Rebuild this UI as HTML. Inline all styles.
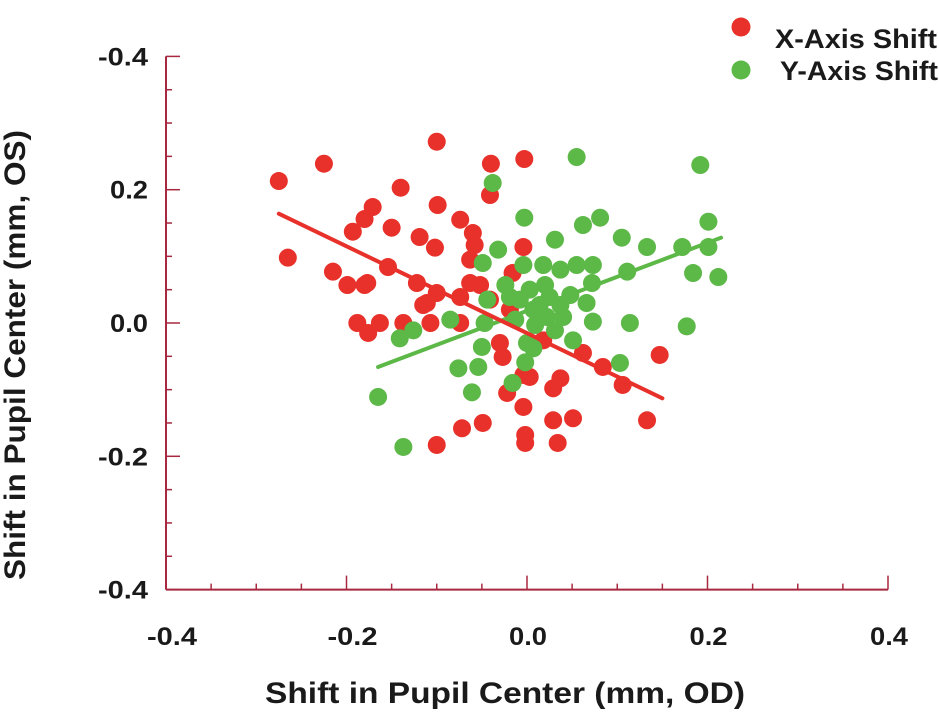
<!DOCTYPE html>
<html><head><meta charset="utf-8">
<style>
html,body{margin:0;padding:0;background:#fff;}
svg text{font-family:"Liberation Sans",Arial,sans-serif;font-weight:bold;fill:#1a1a1a;}
</style></head>
<body>
<svg id="chart" width="939" height="710" viewBox="0 0 939 710" xmlns="http://www.w3.org/2000/svg">
<g id="axes"></g>
<g id="marks"></g>
<text transform="translate(25,355) rotate(-90)" text-anchor="middle" font-size="30" textLength="450" lengthAdjust="spacingAndGlyphs">Shift in Pupil Center (mm, OS)</text>
<text x="505" y="703" text-anchor="middle" font-size="30" textLength="480" lengthAdjust="spacingAndGlyphs">Shift in Pupil Center (mm, OD)</text>
<g>
<circle cx="741" cy="27" r="9.5" fill="#e8312a"/>
<text x="775" y="48" font-size="27" textLength="162" lengthAdjust="spacingAndGlyphs">X-Axis Shift</text>
<circle cx="741" cy="70" r="9.5" fill="#5cb847"/>
<text x="780" y="80" font-size="27" textLength="158" lengthAdjust="spacingAndGlyphs">Y-Axis Shift</text>
</g>
</svg>
<script>
const xTickValues=[-0.4,-0.2,0.0,0.2,0.4];
const xTickLabels=["-0.4","-0.2","0.0","0.2","0.4"];
const yTickValues=[0.4,0.2,0.0,-0.2,-0.4];
const yTickLabels=["-0.4","0.2","0.0","-0.2","-0.4"];
const redX=[-0.275,-0.225,-0.100,-0.040,-0.003,-0.140,-0.041,-0.099,-0.171,-0.180,-0.193,-0.150,-0.074,-0.060,-0.058,-0.119,-0.102,-0.265,-0.215,-0.199,-0.180,-0.154,-0.122,-0.100,-0.115,-0.063,-0.052,-0.074,-0.188,-0.176,-0.163,-0.137,-0.107,-0.074,-0.063,-0.016,-0.004,-0.030,-0.027,-0.004,-0.022,-0.004,-0.072,-0.049,-0.100,-0.002,-0.002,0.003,0.037,0.029,0.034,0.029,0.051,0.133,0.147,0.084,0.106,0.062,-0.177,-0.111,0.018,-0.019,-0.041];
const redY=[0.213,0.239,0.272,0.239,0.246,0.203,0.192,0.177,0.174,0.156,0.137,0.143,0.155,0.135,0.117,0.129,0.113,0.098,0.077,0.057,0.057,0.084,0.060,0.045,0.027,0.060,0.057,0.039,0.0,-0.015,0.0,0.0,0.0,0.0,0.095,0.075,0.114,-0.030,-0.051,-0.078,-0.105,-0.126,-0.158,-0.150,-0.183,-0.168,-0.180,-0.081,-0.083,-0.098,-0.180,-0.146,-0.143,-0.146,-0.048,-0.066,-0.093,-0.045,0.060,0.030,-0.026,0.020,0.035];
const greenX=[0.055,0.192,-0.038,-0.003,0.062,0.081,0.201,0.031,0.105,0.133,0.172,0.201,-0.032,-0.049,-0.004,0.018,0.037,0.055,0.073,0.111,0.184,0.212,0.072,-0.044,-0.019,0.003,0.025,0.048,0.066,0.007,0.022,0.040,0.073,0.114,0.177,-0.085,-0.047,-0.126,-0.141,-0.050,0.0,0.007,0.051,-0.002,-0.054,-0.076,0.103,-0.061,-0.016,-0.165,-0.137,-0.008,0.014,-0.013,0.009,0.031,-0.024,0.020,0.037];
const greenY=[0.249,0.237,0.210,0.158,0.147,0.158,0.152,0.125,0.128,0.114,0.114,0.114,0.110,0.090,0.087,0.087,0.080,0.087,0.087,0.077,0.075,0.069,0.060,0.035,0.039,0.050,0.039,0.042,0.030,0.020,0.009,0.009,0.002,0.0,-0.005,0.005,0.0,-0.011,-0.023,-0.036,-0.030,-0.038,-0.026,-0.059,-0.066,-0.068,-0.060,-0.104,-0.090,-0.111,-0.186,0.035,0.027,0.005,-0.003,-0.011,0.057,0.057,0.027];
const redFitX=[-0.275,0.150];
const redFitY=[0.164,-0.113];
const greenFitX=[-0.165,0.215];
const greenFitY=[-0.066,0.128];

const NS="http://www.w3.org/2000/svg";
function sx(v){return 527+v*902.5;}
function sy(v){return 323-v*666.5;}
function mk(tag,attrs,parent){const e=document.createElementNS(NS,tag);for(const k in attrs)e.setAttribute(k,attrs[k]);parent.appendChild(e);return e;}
const axes=document.getElementById('axes');
const marks=document.getElementById('marks');
const AX="#a8283f";
const x0=sx(-0.4),x1=sx(0.4),y0=sy(-0.4),y1=sy(0.4);
let ya=mk('line',{x1:x0,y1:y1,x2:x0,y2:y0,stroke:AX,'stroke-width':2},axes);


let xa=mk('line',{x1:x0,y1:y0,x2:x1,y2:y0,stroke:AX,'stroke-width':2},axes);


for(let i=0;i<=16;i++){
  const v=-0.4+i*0.05;const major=i%4===0;
  const tx=mk('line',{x1:sx(v),y1:y0,x2:sx(v),y2:y0-(major?14:6),stroke:AX,'stroke-width':1.5},axes);
  
  
  const ty=mk('line',{x1:x0,y1:sy(v),x2:x0+(major?14:6),y2:sy(v),stroke:AX,'stroke-width':1.5},axes);
  
  
}
xTickValues.forEach((v,i)=>{
  const neg=xTickLabels[i][0]==='-';
  const t=mk('text',{x:sx(v)-(neg?-6:-1),y:645,'text-anchor':'middle','font-size':25,textLength:neg?50:38,lengthAdjust:'spacingAndGlyphs'},axes);
  t.textContent=xTickLabels[i];
  
  
});
yTickValues.forEach((v,i)=>{
  const neg=yTickLabels[i][0]==='-';
  const t=mk('text',{x:148,y:sy(v)+9,'text-anchor':'end','font-size':25,textLength:neg?50:38,lengthAdjust:'spacingAndGlyphs'},axes);
  t.textContent=yTickLabels[i];
  
  
});
redX.forEach((v,i)=>{
  const c=mk('circle',{cx:sx(v),cy:sy(redY[i]),r:9,fill:'#e8312a'},marks);
  
  
});
greenX.forEach((v,i)=>{
  const c=mk('circle',{cx:sx(v),cy:sy(greenY[i]),r:9,fill:'#5cb847'},marks);
  
  
});
const gl=mk('line',{x1:sx(greenFitX[0]),y1:sy(greenFitY[0]),x2:sx(greenFitX[1]),y2:sy(greenFitY[1]),stroke:'#5cb847','stroke-width':4,'stroke-linecap':'round'},marks);


const rl=mk('line',{x1:sx(redFitX[0]),y1:sy(redFitY[0]),x2:sx(redFitX[1]),y2:sy(redFitY[1]),stroke:'#e8312a','stroke-width':4,'stroke-linecap':'round'},marks);


</script>
</body></html>
